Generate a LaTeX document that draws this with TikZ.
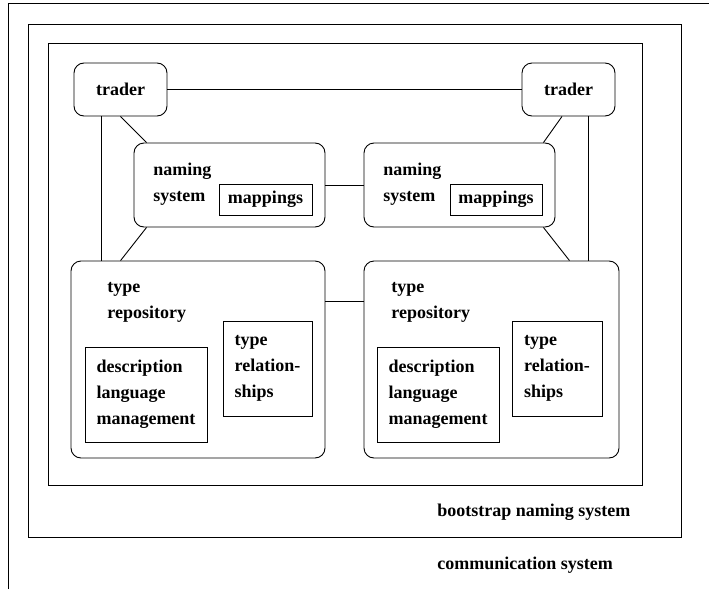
\documentclass[tikz,border=0pt]{standalone}
\usepackage{fontspec}
\setmainfont{Liberation Serif}
\usetikzlibrary{positioning}

\newcommand{\labelfont}{\fontsize{18}{26}\selectfont\bfseries}

\tikzset{
  rbox/.style={draw,rounded corners=10pt,inner sep=0pt,font=\labelfont},
  sbox/.style={draw,inner sep=0pt,align=left,font=\labelfont},
  lbl/.style={inner sep=0pt,align=left,anchor=west,font=\labelfont},
}

\begin{document}
\begin{tikzpicture}[x=1pt,y=-1pt,line width=0.9pt]
       \useasboundingbox(0,0)rectangle(709,589);
       \draw(8,589)--(8,3)--(709,3);%outer frame
       \draw(28,24)rectangle(681,537);%bootstrap frame
       \draw(48,43)rectangle(642,485);%inner frame

       \node[rbox,minimum width=93pt,minimum height=53pt](traderL)at(120.5,89.5){trader};
       \node[rbox,minimum width=93pt,minimum height=53pt](traderR)at(568.5,89.5){trader};

       \node[rbox,minimum width=191pt,minimum height=84pt](namL)at(229.5,185){};
       \node[rbox,minimum width=191pt,minimum height=84pt](namR)at(459.5,185){};
       \node[lbl](namtxtL)at(153,184.5){naming\\system};
       \node[lbl](namtxtR)at(383,184.5){naming\\system};
       \node[sbox,minimum width=93pt,minimum height=31pt](mapL)at(265.5,199.5){mappings};
       \node[sbox,minimum width=92pt,minimum height=31pt](mapR)at(496,199.5){mappings};

       \node[rbox,minimum width=254pt,minimum height=197pt](repoL)at(198,359.5){};
       \node[rbox,minimum width=255pt,minimum height=197pt](repoR)at(491.5,359.5){};
       \node[lbl](repotxtL)at(107,302){type\\repository};
       \node[lbl](repotxtR)at(391,302){type\\repository};
       \node[sbox,minimum width=122pt,minimum height=95pt](descL)at(146,394.5){description\\language\\management};
       \node[sbox,minimum width=122pt,minimum height=95pt](descR)at(438,394.5){description\\language\\management};
       \node[sbox,minimum width=89pt,minimum height=95pt](relL)at(267.5,368.5){type\\relation-\\ships};
       \node[sbox,minimum width=90pt,minimum height=95pt](relR)at(557,368.5){type\\relation-\\ships};

       \node[lbl](boot)at(437,512){bootstrap naming system};
       \node[lbl](comm)at(437,565){communication system};

       \coordinate(vL)at(101,0);%left vertical
       \coordinate(vR)at(588,0);%right vertical
       \coordinate(row)at(0,301);%repo link height

       \draw(traderL.east)--(traderR.west);
       \draw(namL.east)--(namR.west);
       \draw(repoL.east|-row)--(repoR.west|-row);

       \draw(traderL.south-|vL)--(repoL.north-|vL);
       \draw(traderR.south-|vR)--(repoR.north-|vR);

       \draw(traderL.south)--([xshift=13pt]namL.north west);
       \draw([xshift=13pt]namL.south west)--([xshift=50pt]repoL.north west);
       \draw([xshift=-6.5pt]traderR.south)--([xshift=-12pt]namR.north east);
       \draw([xshift=-12pt]namR.south east)--([xshift=-50pt]repoR.north east);
\end{tikzpicture}
\end{document}
